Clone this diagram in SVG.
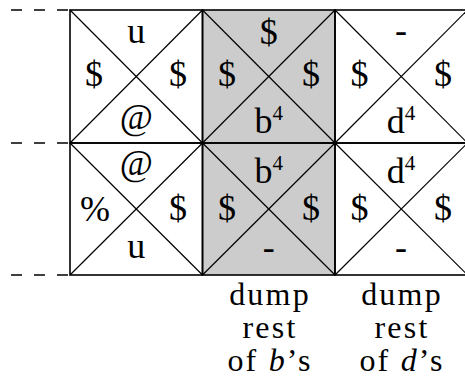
<svg xmlns="http://www.w3.org/2000/svg" width="465" height="378" viewBox="0 0 465 378">
<style>
.frame{fill:none;stroke:#000;stroke-width:1.6}
.diag{stroke:#000;stroke-width:1.2}
.dash{stroke:#000;stroke-width:1.5;stroke-dasharray:11 12}
.lbl{font-family:'Liberation Serif','DejaVu Serif',serif;font-size:36px;fill:#000;text-anchor:middle}
.sup{font-size:21px}
.cap{font-family:'Liberation Serif','DejaVu Serif',serif;font-size:32px;letter-spacing:2.2px;fill:#000;text-anchor:middle}
</style>
<rect x="202.5" y="10" width="132.5" height="265" fill="#cccccc"/>
<g id="connectors">
<line class="dash" x1="11" y1="10" x2="69" y2="10"/>
<line class="dash" x1="11" y1="143" x2="69" y2="143"/>
<line class="dash" x1="11" y1="275" x2="69" y2="275"/>
</g>
<g id="cell-r1c1">
<rect class="frame" x="70" y="10" width="132.5" height="133"/>
<line class="diag" x1="70" y1="10" x2="202.5" y2="143"/><line class="diag" x1="202.5" y1="10" x2="70" y2="143"/>
<text class="lbl" x="136.25" y="43">u</text>
<text class="lbl" x="94" y="86">$</text>
<text class="lbl" x="178" y="86">$</text>
<text class="lbl" x="136.25" y="129">@</text>
</g>
<g id="cell-r1c2">
<rect class="frame" x="202.5" y="10" width="132.5" height="133"/>
<line class="diag" x1="202.5" y1="10" x2="335" y2="143"/><line class="diag" x1="335" y1="10" x2="202.5" y2="143"/>
<text class="lbl" x="268.75" y="44">$</text>
<text class="lbl" x="227" y="86">$</text>
<text class="lbl" x="311" y="86">$</text>
<text class="lbl" x="268.75" y="133">b<tspan class="sup" dy="-13">4</tspan></text>
</g>
<g id="cell-r1c3">
<rect class="frame" x="335" y="10" width="132.5" height="133"/>
<line class="diag" x1="335" y1="10" x2="467.5" y2="143"/><line class="diag" x1="467.5" y1="10" x2="335" y2="143"/>
<text class="lbl" x="401" y="42">-</text>
<text class="lbl" x="359.5" y="86">$</text>
<text class="lbl" x="443" y="86">$</text>
<text class="lbl" x="401" y="133">d<tspan class="sup" dy="-13">4</tspan></text>
</g>
<g id="cell-r2c1">
<rect class="frame" x="70" y="143" width="132.5" height="132"/>
<line class="diag" x1="70" y1="143" x2="202.5" y2="275"/><line class="diag" x1="202.5" y1="143" x2="70" y2="275"/>
<text class="lbl" x="136.25" y="175">@</text>
<text class="lbl" x="95" y="221">%</text>
<text class="lbl" x="178" y="220">$</text>
<text class="lbl" x="136.25" y="258">u</text>
</g>
<g id="cell-r2c2">
<rect class="frame" x="202.5" y="143" width="132.5" height="132"/>
<line class="diag" x1="202.5" y1="143" x2="335" y2="275"/><line class="diag" x1="335" y1="143" x2="202.5" y2="275"/>
<text class="lbl" x="268.75" y="183">b<tspan class="sup" dy="-13">4</tspan></text>
<text class="lbl" x="227" y="220">$</text>
<text class="lbl" x="311" y="220">$</text>
<text class="lbl" x="268.75" y="259">-</text>
</g>
<g id="cell-r2c3">
<rect class="frame" x="335" y="143" width="132.5" height="132"/>
<line class="diag" x1="335" y1="143" x2="467.5" y2="275"/><line class="diag" x1="467.5" y1="143" x2="335" y2="275"/>
<text class="lbl" x="401" y="183">d<tspan class="sup" dy="-13">4</tspan></text>
<text class="lbl" x="359.5" y="220">$</text>
<text class="lbl" x="443" y="220">$</text>
<text class="lbl" x="401" y="259">-</text>
</g>
<g id="caption-b">
<text class="cap" x="270" y="305">dump</text>
<text class="cap" x="270" y="338">rest</text>
<text class="cap" x="270" y="371">of <tspan font-style="italic">b</tspan>’s</text>
</g>
<g id="caption-d">
<text class="cap" x="402" y="305">dump</text>
<text class="cap" x="402" y="338">rest</text>
<text class="cap" x="402" y="371">of <tspan font-style="italic">d</tspan>’s</text>
</g>
</svg>
